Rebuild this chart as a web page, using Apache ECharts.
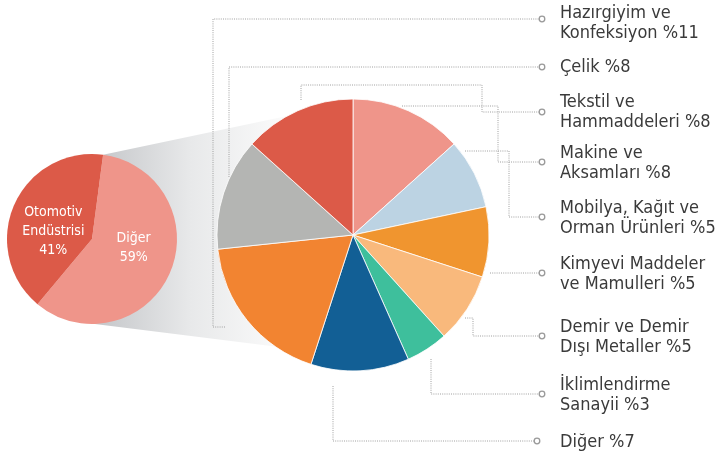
<!DOCTYPE html>
<html>
<head>
<meta charset="utf-8">
<script src="https://cdn.jsdelivr.net/npm/echarts@6/dist/echarts.min.js"></script>
<style>
  html, body { margin: 0; padding: 0; background: #fff; }
  #chart { width: 718px; height: 457px; }
</style>
</head>
<body>
<div id="chart"></div>
<script>
// küçük pasta: toplam ihracat
var mainNames = ['Diğer', 'Otomotiv\nEndüstrisi'];
var mainValues = [59, 41];

// büyük pasta: "Diğer" dilimi, saat yönünde tepeden başlayarak
var otherNames = [
  'Makine ve\nAksamları',
  'Mobilya, Kağıt ve\nOrman Ürünleri',
  'Kimyevi Maddeler\nve Mamulleri',
  'Demir ve Demir\nDışı Metaller',
  'İklimlendirme\nSanayii',
  'Diğer',
  'Hazırgiyim ve\nKonfeksiyon',
  'Çelik',
  'Tekstil ve\nHammaddeleri'
];
var otherValues = [8, 5, 5, 5, 3, 7, 11, 8, 8];

var mainColors = ['#ef958a', '#dc5a48'];
var otherColors = ['#ef958a', '#bcd3e3', '#f0952f', '#f9b97c', '#3ebf9c', '#125f95', '#f28431', '#b4b5b3', '#dc5a48'];

// yerleşim
var small = { cx: 92, cy: 239, r: 85 };
var big = { cx: 353, cy: 235, r: 136 };
var smallLabelShift = [[0, -9], [3, 11]];
var labelX = 560;
var labelY = [163, 218, 274, 337, 395, 442, 23, 67, 112];
// kılavuz çizgileri (dilimden etikete)
var leaderRoutes = [
  [[402,106],[498,106],[498,162],[539,162]],
  [[465,151],[509,151],[509,217],[539,217]],
  [[490,273],[539,273]],
  [[465,318],[473,318],[473,336],[539,336]],
  [[431,359],[431,394],[539,394]],
  [[333,386],[333,441],[534,441]],
  [[225,327],[213,327],[213,19],[539,19]],
  [[229,177],[229,67],[539,67]],
  [[301,100],[301,85],[482,85],[482,112],[539,112]]
];

function pt(c, deg) {
  var a = deg * Math.PI / 180;
  return [c.cx + c.r * Math.sin(a), c.cy - c.r * Math.cos(a)];
}

var fontFam = '"DejaVu Sans Condensed", "DejaVu Sans", sans-serif';

var elements = [];
elements.push({
  type: 'polygon',
  z: -10,
  shape: { points: [pt(small, 7.5), pt(big, 331), pt(big, 215), pt(small, 178)] },
  style: {
    fill: new echarts.graphic.LinearGradient(0, 0, 1, 0, [
      { offset: 0, color: '#c4c6c9' },
      { offset: 0.5, color: '#e8e9ea' },
      { offset: 1, color: '#fbfbfb' }
    ])
  }
});
leaderRoutes.forEach(function (r) {
  elements.push({
    type: 'polyline',
    z: 1,
    shape: { points: r },
    style: { stroke: '#a0a0a0', lineWidth: 1, lineDash: [1, 1.2], fill: null }
  });
  var last = r[r.length - 1];
  elements.push({
    type: 'circle',
    z: 1,
    shape: { cx: last[0] + 3, cy: last[1], r: 2.8 },
    style: { stroke: '#9a9a9a', lineWidth: 1.3, fill: '#fff' }
  });
});

var chart = echarts.init(document.getElementById('chart'));
chart.setOption({
  animation: false,
  graphic: { elements: elements },
  series: [
    {
      type: 'pie',
      center: [small.cx, small.cy],
      radius: small.r,
      startAngle: 82.5,
      clockwise: true,
      avoidLabelOverlap: false,
      silent: true,
      data: mainNames.map(function (n, i) {
        return { name: n, value: mainValues[i], itemStyle: { color: mainColors[i] } };
      }),
      label: {
        position: 'inside',
        color: '#fff',
        fontFamily: fontFam,
        fontSize: 14,
        lineHeight: 19,
        formatter: '{b}\n{c}%'
      },
      labelLine: { show: false },
      labelLayout: function (p) {
        var s = smallLabelShift[p.dataIndex];
        return { dx: s[0], dy: s[1] };
      }
    },
    {
      type: 'pie',
      center: [big.cx, big.cy],
      radius: big.r,
      startAngle: 90,
      clockwise: true,
      avoidLabelOverlap: false,
      silent: true,
      itemStyle: { borderColor: '#fff', borderWidth: 0.8 },
      data: otherNames.map(function (n, i) {
        return { name: n, value: otherValues[i], itemStyle: { color: otherColors[i] } };
      }),
      label: {
        color: '#3a3a3a',
        fontFamily: fontFam,
        fontSize: 18,
        lineHeight: 20,
        formatter: '{b} %{c}'
      },
      labelLine: { show: false },
      labelLayout: function (p) {
        return { x: labelX, y: labelY[p.dataIndex], align: 'left', verticalAlign: 'middle' };
      }
    }
  ]
});
</script>
</body>
</html>
